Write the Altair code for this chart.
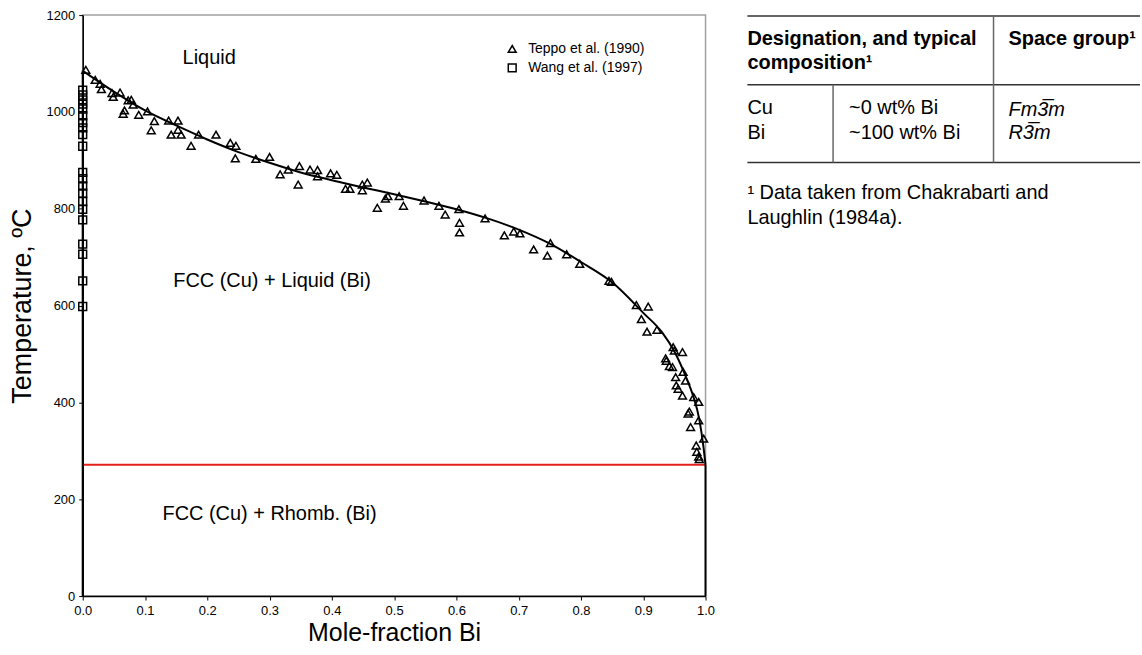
import altair as alt
import pandas as pd

# ---- data ----
teppo_x = [0.005, 0.02, 0.028, 0.03, 0.047, 0.049, 0.06, 0.065, 0.067, 0.073, 0.078, 0.081,
           0.09, 0.104, 0.110, 0.115, 0.138, 0.153, 0.142, 0.153, 0.158, 0.174, 0.186, 0.214,
           0.237, 0.246, 0.245, 0.278, 0.30, 0.317, 0.33, 0.346, 0.348,
           0.365, 0.377, 0.377, 0.398, 0.408, 0.422, 0.429, 0.449, 0.449, 0.457, 0.473, 0.486,
           0.49, 0.508, 0.515, 0.548, 0.572, 0.582, 0.604, 0.605, 0.605, 0.646, 0.677, 0.692,
           0.702, 0.724, 0.746, 0.751, 0.777,
           0.798, 0.845, 0.849, 0.889, 0.908, 0.897, 0.906, 0.922, 0.948, 0.95, 0.963, 0.936,
           0.937, 0.942, 0.947, 0.964, 0.952, 0.968, 0.953, 0.956, 0.963, 0.981, 0.989, 0.974,
           0.972, 0.989, 0.976, 0.997, 0.985, 0.986, 0.989, 0.99]
teppo_t = [1087, 1066, 1058, 1047, 1039, 1031, 1040, 996, 1003, 1024, 1025, 1015,
           994, 1001, 962, 981, 982, 982, 953, 963, 953, 930, 953, 953,
           936, 930, 904, 903, 907, 871, 881, 850, 888,
           881, 880, 867, 873, 870, 841, 841, 838, 850, 854, 802, 821,
           826, 826, 806, 817, 806, 788, 799, 771, 751, 780, 745, 753,
           749, 716, 703, 729, 706,
           686, 651, 649, 601, 598, 572, 546, 550, 514, 507, 504, 491,
           486, 475, 473, 463, 452, 445, 435, 428, 414, 411, 401, 381,
           377, 363, 349, 325, 311, 298, 288, 283]

wang_x = [0.0] * 21
wang_t = [1045, 1035, 1025, 1016, 1006, 992, 978, 967, 953, 929, 875, 862, 847,
          832, 815, 799, 777, 727, 706, 651, 598]

liq_x = [0.0, 0.05, 0.1, 0.15, 0.2, 0.25, 0.3, 0.35, 0.4, 0.45, 0.5, 0.55, 0.6, 0.65,
         0.7, 0.75, 0.8, 0.85, 0.9, 0.93, 0.95, 0.97, 0.98, 0.99, 0.997, 1.0]
liq_t = [1085, 1042, 1003, 972, 943, 917, 895, 875, 859, 844, 830, 815, 799, 780,
         757, 728, 690, 648, 585, 545, 505, 448, 414, 365, 305, 271]

eutectic_t = 271
cu_melt = 1085

series_names = ["Teppo et al. (1990)", "Wang et al. (1997)"]

region_labels = ["Liquid", "FCC (Cu) + Liquid (Bi)", "FCC (Cu) + Rhomb. (Bi)"]
region_x = [0.203, 0.304, 0.30]
region_t = [1112, 650, 169]

tbl_head_left = ["Designation, and typical", "composition\u00b9"]
tbl_head_right = ["Space group\u00b9"]
tbl_col1 = ["Cu", "Bi"]
tbl_col2 = ["~0 wt% Bi", "~100 wt% Bi"]
tbl_col3 = ["Fm3\u0305m", "R3\u0305m"]
footnote = ["\u00b9 Data taken from Chakrabarti and", "Laughlin (1984a)."]

FONT = "Liberation Sans"
W, H = 625, 583

# ---- main diagram ----
xs = alt.Scale(domain=[0, 1], nice=False)
ys = alt.Scale(domain=[0, 1200], nice=False)

pts = pd.DataFrame({
    "x": teppo_x + wang_x,
    "t": teppo_t + wang_t,
    "src": [series_names[0]] * len(teppo_x) + [series_names[1]] * len(wang_x),
})
liq = pd.DataFrame({"x": liq_x, "t": liq_t})
cu_sol = pd.DataFrame({"x": [0.0, 0.0], "t": [0, cu_melt]})
bi_sol = pd.DataFrame({"x": [1.0, 1.0], "t": [0, eutectic_t]})
eut = pd.DataFrame({"x": [0.0], "x2": [1.0], "t": [eutectic_t]})
regions = pd.DataFrame({"x": region_x, "t": region_t, "label": region_labels})

x_enc = alt.X("x:Q", scale=xs, title="Mole-fraction Bi",
              axis=alt.Axis(values=[i / 10 for i in range(11)], format=".1f", labelFlush=False,
                            labelFontSize=13, labelPadding=5, titlePadding=3, titleFontSize=25))
y_enc = alt.Y("t:Q", scale=ys, title="Temperature, \u00baC",
              axis=alt.Axis(values=list(range(0, 1201, 200)), format="d", labelFlush=False,
                            labelFontSize=13, labelPadding=4, titlePadding=9, titleFontSize=27))

liq_line = alt.Chart(liq).mark_line(color="black", strokeWidth=2, interpolate="monotone").encode(x=x_enc, y=y_enc)
cu_line = alt.Chart(cu_sol).mark_line(color="black", strokeWidth=2).encode(x="x:Q", y="t:Q")
bi_line = alt.Chart(bi_sol).mark_line(color="black", strokeWidth=2).encode(x="x:Q", y="t:Q")
eut_line = alt.Chart(eut).mark_rule(color="#e3211c", strokeWidth=2).encode(x="x:Q", x2="x2:Q", y="t:Q")

points = alt.Chart(pts).mark_point(filled=False, color="black", strokeWidth=1.5, size=62, opacity=1).encode(
    x="x:Q", y="t:Q",
    shape=alt.Shape("src:N", scale=alt.Scale(domain=series_names, range=["triangle-up", "square"]),
                    legend=alt.Legend(title=None, orient="none", legendX=424, legendY=27,
                                      labelFontSize=14, labelFont=FONT, symbolSize=62,
                                      symbolStrokeColor="black", symbolStrokeWidth=1.5,
                                      rowPadding=5, labelOffset=9, padding=0))
)

labels = alt.Chart(regions).mark_text(font=FONT, fontSize=20, color="black", align="center", baseline="middle").encode(
    x="x:Q", y="t:Q", text="label:N")

main = alt.layer(eut_line, liq_line, cu_line, bi_line, points, labels).properties(width=W, height=H)

# ---- table panel ----
TW = 394
ts_x = alt.Scale(domain=[0, TW], range=[0, TW])
ts_y = alt.Scale(domain=[0, H], range=[0, H])

hlines = pd.DataFrame({"x": [0, 0, 0], "x2": [TW, TW, TW], "y": [1, 70, 148]})
vlines = pd.DataFrame({"x": [247, 86], "y": [1, 70], "y2": [148, 148]})

head_bold = pd.DataFrame({"x": [0, 0, 262], "y": [24.3, 48.3, 23.8],
                          "text": tbl_head_left + tbl_head_right})
body = pd.DataFrame({"x": [0, 0, 102, 102], "y": [93.3, 118.3, 93.3, 118.3],
                     "text": tbl_col1 + tbl_col2})
body_it = pd.DataFrame({"x": [262, 262], "y": [95, 118.3], "text": tbl_col3})
foot = pd.DataFrame({"x": [0, 0], "y": [178.3, 203.3], "text": footnote})

def txt(df, **kw):
    return alt.Chart(df).mark_text(font=FONT, fontSize=20, color="black", align="left", baseline="middle", **kw).encode(
        x=alt.X("x:Q", scale=ts_x, axis=None), y=alt.Y("y:Q", scale=ts_y, axis=None), text="text:N")

t_h = alt.Chart(hlines).mark_rule(color="#333", strokeWidth=1.5).encode(
    x=alt.X("x:Q", scale=ts_x, axis=None), x2="x2:Q", y=alt.Y("y:Q", scale=ts_y, axis=None))
t_v = alt.Chart(vlines).mark_rule(color="#666", strokeWidth=1.5).encode(
    x=alt.X("x:Q", scale=ts_x, axis=None), y=alt.Y("y:Q", scale=ts_y, axis=None), y2="y2:Q")

table = alt.layer(t_h, t_v, txt(head_bold, fontWeight="bold"), txt(body), txt(body_it, fontStyle="italic"),
                  txt(foot)).properties(width=TW, height=H, view=alt.ViewConfig(stroke="transparent"))

chart = alt.hconcat(main, table, spacing=42, bounds="flush").properties(
    padding={"left": 8, "top": 7, "right": 0, "bottom": 0}
).configure_view(stroke="#a0a0a0", strokeWidth=1.5).configure_axis(
    domainColor="black", domainWidth=1.5, tickColor="black", tickSize=4, grid=False,
    labelFont=FONT, labelColor="black",
    titleFont=FONT, titleFontWeight="normal", titleColor="black"
)

chart.save("out.html", embed_options={"renderer": "svg", "actions": False})
